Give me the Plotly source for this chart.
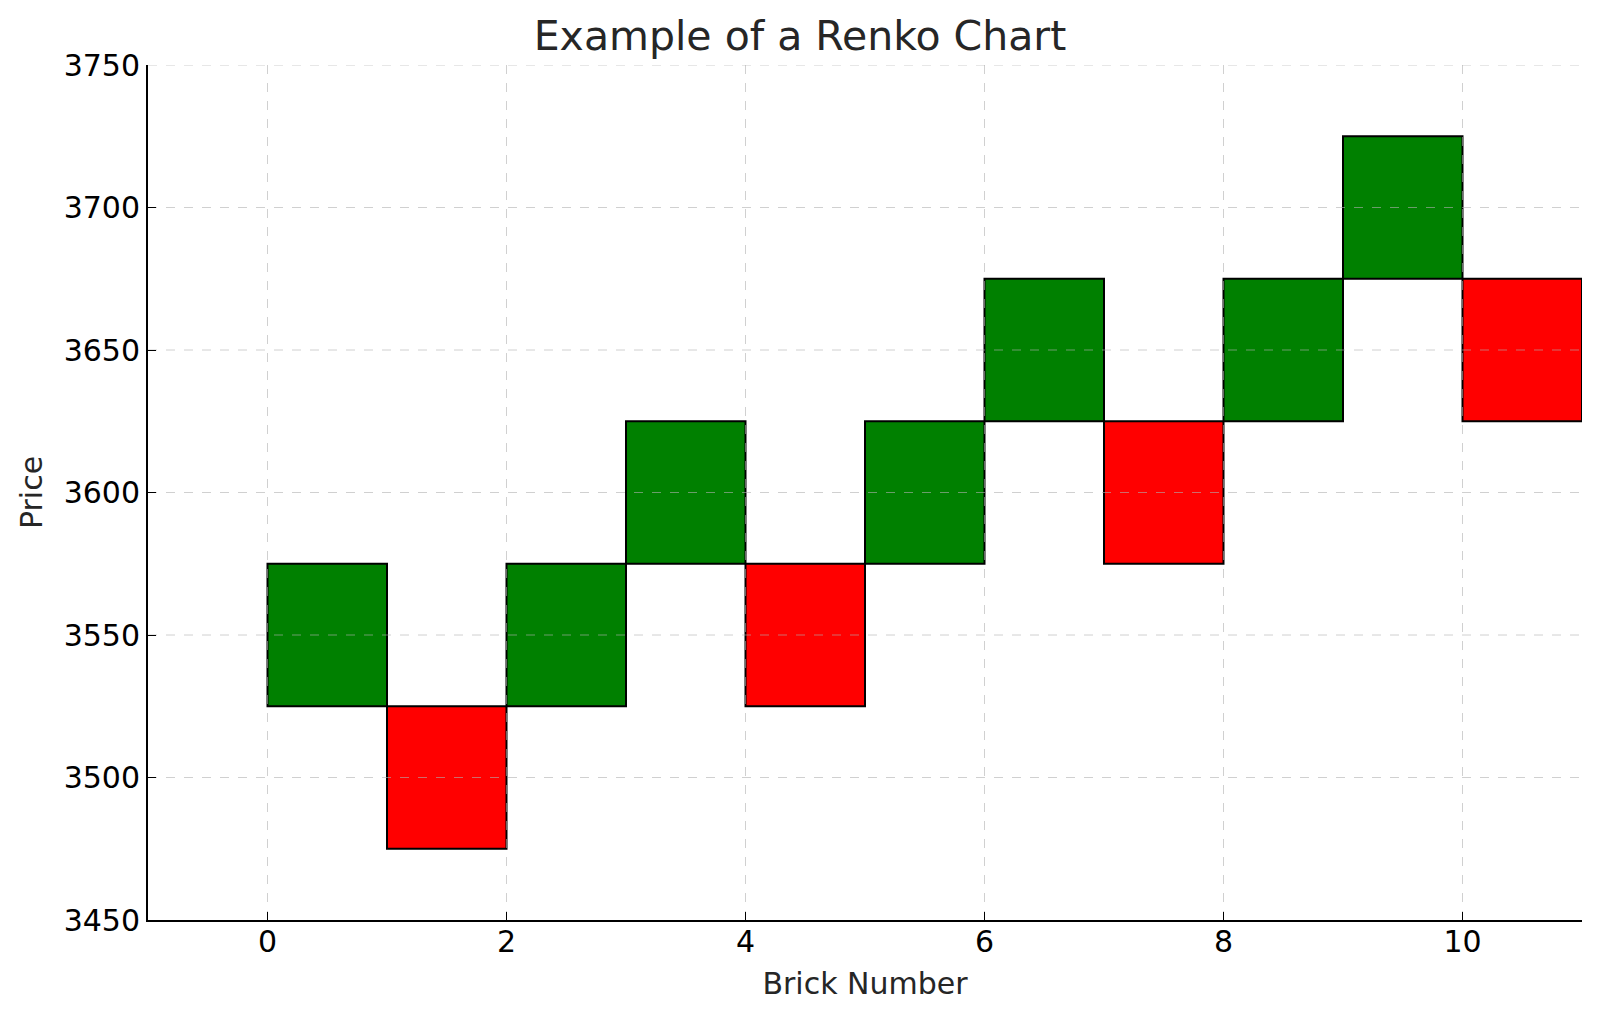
import plotly.graph_objects as go

brick_index = [0, 1, 2, 3, 4, 5, 6, 7, 8, 9, 10]
brick_low = [3525, 3475, 3525, 3575, 3525, 3575, 3625, 3575, 3625, 3675, 3625]
brick_high = [3575, 3525, 3575, 3625, 3575, 3625, 3675, 3625, 3675, 3725, 3675]
brick_dir = ["up", "down", "up", "up", "down", "up", "up", "down", "up", "up", "down"]

x_ticks = [0, 2, 4, 6, 8, 10]
y_ticks = [3450, 3500, 3550, 3600, 3650, 3700, 3750]
x_range = [-1, 11]
y_range = [3450, 3750]

colors = {"up": "#008000", "down": "#FF0000"}

fig = go.Figure()
fig.add_trace(go.Bar(
    x=[i + 0.5 for i in brick_index],
    y=[h - l for h, l in zip(brick_high, brick_low)],
    base=brick_low,
    width=1,
    marker=dict(color=[colors[d] for d in brick_dir],
                line=dict(color="black", width=2)),
    showlegend=False,
    hoverinfo="skip",
))

# grid lines drawn above the bricks (as in the reference), built from the tick lists
gx, gy = [], []
for t in x_ticks:
    gx += [t, t, None]
    gy += [y_range[0], y_range[1], None]
for t in y_ticks[1:]:
    gx += [x_range[0], x_range[1], None]
    gy += [t, t, None]
fig.add_trace(go.Scatter(
    x=gx, y=gy, mode="lines",
    line=dict(color="rgba(176,176,176,0.6)", width=1, dash="dash"),
    showlegend=False, hoverinfo="skip", cliponaxis=True,
))

font = "DejaVu Sans"
axis_common = dict(
    showgrid=False,
    showline=True, linecolor="black", linewidth=2, mirror=False,
    ticks="inside", ticklen=8, tickwidth=1.2, tickcolor="black",
    tickfont=dict(family=font, size=30, color="black"),
    zeroline=False, layer="above traces",
)

fig.update_layout(
    width=1600, height=1019,
    margin=dict(l=148, r=18, t=65, b=99),
    paper_bgcolor="white", plot_bgcolor="white",
    title=dict(text="Example of a Renko Chart", x=0.5, xanchor="center",
               y=1 - 36 / 1019, yanchor="middle",
               font=dict(family=font, size=41, color="#262626")),
    xaxis=dict(range=x_range, tickvals=x_ticks, ticklabelstandoff=-6,
               title=dict(text="Brick Number", font=dict(family=font, size=30, color="#262626"), standoff=15),
               **axis_common),
    yaxis=dict(range=y_range, tickvals=y_ticks,
               title=dict(text="Price", font=dict(family=font, size=30, color="#262626"), standoff=12),
               **axis_common),
)

fig.write_html("out.html")
